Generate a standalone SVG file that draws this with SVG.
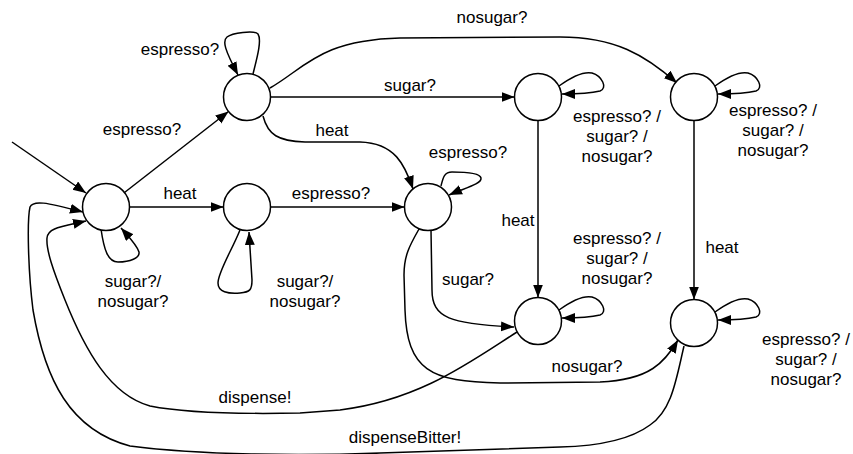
<svg xmlns="http://www.w3.org/2000/svg" width="853" height="454" viewBox="0 0 853 454">
  <style>
    .state { fill: #ffffff; stroke: #000000; stroke-width: 1.5; }
    .edge { fill: none; stroke: #000000; stroke-width: 1.5; marker-end: url(#arrow); }
    .plain { fill: none; stroke: #000000; stroke-width: 1.5; }
    .label { font-family: "Liberation Sans", Arial, Helvetica, sans-serif; font-size: 17px; fill: #000000; text-anchor: middle; }
  </style>
  <defs>
    <marker id="arrow" markerUnits="userSpaceOnUse" markerWidth="14" markerHeight="11" refX="13" refY="5" orient="auto">
      <path d="M0,0 L13,5 L0,10 z" fill="#000000"/>
    </marker>
  </defs>
  <rect width="853" height="454" fill="#ffffff"/>

  <!-- transitions -->
  <g id="connectors">
    <!-- initial arrow -->
    <path class="edge" d="M12,142 L86,193"/>
    <!-- straight transitions -->
    <path class="edge" d="M124.5,192.5 L228.5,111.5"/>
    <path class="edge" d="M129.5,207 L223.5,207"/>
    <path class="edge" d="M270.5,207 L404.5,207"/>
    <path class="edge" d="M270.5,97 L514.5,97"/>
    <path class="edge" d="M538,120.5 L538,297.5"/>
    <path class="edge" d="M694,120.5 L694,299.5"/>
    <!-- curved transitions -->
    <path class="edge" d="M270,88 C305,68 320,40 400,38 L560,37 C615,37 645,55 677,83"/>
    <path class="edge" d="M263,116 C268,135 278,141 305,142 L360,142 C395,143 405,165 413,189"/>
    <path class="edge" d="M431,230 L432,290 C432,318 450,324 514,327"/>
    <path class="edge" d="M419,229 C410,245 404,255 404,275 L405,310 C407,370 430,382 500,383 L600,382 C650,380 665,362 678,340"/>
    <path class="edge" d="M517,332 C470,362 420,400 340,410 L300,413 C250,414 190,414 150,406 C110,395 85,350 65,300 C53,270 46,250 47,238 C48,228 60,227 86,221"/>
    <path class="edge" d="M684,346 C676,380 672,410 650,425 C630,440 600,446 560,447 L380,453 C300,456 200,455 130,446 C70,430 45,380 33,310 C28,270 27,220 30,207 C33,200 45,202 83,212"/>
    <!-- self loops -->
    <path class="edge" d="M101,229 C104,250 108,262 118,262 C130,262 140,258 139,252 C137,245 130,238 121,228"/>
    <path class="edge" d="M240,230 C232,250 218,272 218,283 C218,292 228,294 240,293 C250,292 252,290 252,280 L249,232"/>
    <path class="edge" d="M253,74 C257,58 262,40 258,34 C254,30 232,33 227,37 C222,41 225,50 238,75"/>
    <path class="edge" d="M441,186 C443,178 444,172 452,172 C465,172 480,173 481,178 C482,184 465,188 449,195"/>
    <path class="edge" d="M559,86 C570,78 582,71 592,73 C602,76 608,88 600,91 C592,93 575,94 562,94"/>
    <path class="edge" d="M715,86 C726,78 738,71 748,73 C758,76 764,88 756,91 C748,93 731,94 718,94"/>
    <path class="edge" d="M559,310 C570,302 582,295 592,297 C602,300 608,312 600,315 C592,317 575,318 562,318"/>
    <path class="edge" d="M715,312 C726,304 738,297 748,299 C758,302 764,314 756,317 C748,319 731,320 718,320"/>
  </g>

  <!-- transition labels -->
  <g id="labels">
    <text class="label" x="142" y="135">espresso?</text>
    <text class="label" x="180" y="55">espresso?</text>
    <text class="label" x="180" y="199">heat</text>
    <text class="label" x="331" y="199">espresso?</text>
    <text class="label" x="410" y="91">sugar?</text>
    <text class="label" x="492" y="23">nosugar?</text>
    <text class="label" x="332" y="136">heat</text>
    <text class="label" x="468" y="158">espresso?</text>
    <text class="label" x="518" y="226">heat</text>
    <text class="label" x="722" y="253">heat</text>
    <text class="label" x="468" y="285">sugar?</text>
    <text class="label" x="587" y="372">nosugar?</text>
    <text class="label" x="255" y="403">dispense!</text>
    <text class="label" x="405" y="443">dispenseBitter!</text>
    <text class="label" x="133" y="287">sugar?/</text>
    <text class="label" x="133" y="307">nosugar?</text>
    <text class="label" x="305" y="287">sugar?/</text>
    <text class="label" x="305" y="307">nosugar?</text>
    <text class="label" x="617" y="122">espresso? /</text>
    <text class="label" x="617" y="142">sugar? /</text>
    <text class="label" x="617" y="162">nosugar?</text>
    <text class="label" x="773" y="116">espresso? /</text>
    <text class="label" x="773" y="136">sugar? /</text>
    <text class="label" x="773" y="156">nosugar?</text>
    <text class="label" x="617" y="244">espresso? /</text>
    <text class="label" x="617" y="264">sugar? /</text>
    <text class="label" x="617" y="284">nosugar?</text>
    <text class="label" x="806" y="345">espresso? /</text>
    <text class="label" x="806" y="365">sugar? /</text>
    <text class="label" x="806" y="385">nosugar?</text>
  </g>

  <!-- states -->
  <g id="s0"><circle class="state" cx="106" cy="207" r="23.5"/></g>
  <g id="s1"><circle class="state" cx="247" cy="97" r="23.5"/></g>
  <g id="s2"><circle class="state" cx="247" cy="207" r="23.5"/></g>
  <g id="s3"><circle class="state" cx="428" cy="207" r="23.5"/></g>
  <g id="s4"><circle class="state" cx="538" cy="97" r="23.5"/></g>
  <g id="s5"><circle class="state" cx="694" cy="97" r="23.5"/></g>
  <g id="s6"><circle class="state" cx="538" cy="321" r="23.5"/></g>
  <g id="s7"><circle class="state" cx="694" cy="323" r="23.5"/></g>
</svg>
